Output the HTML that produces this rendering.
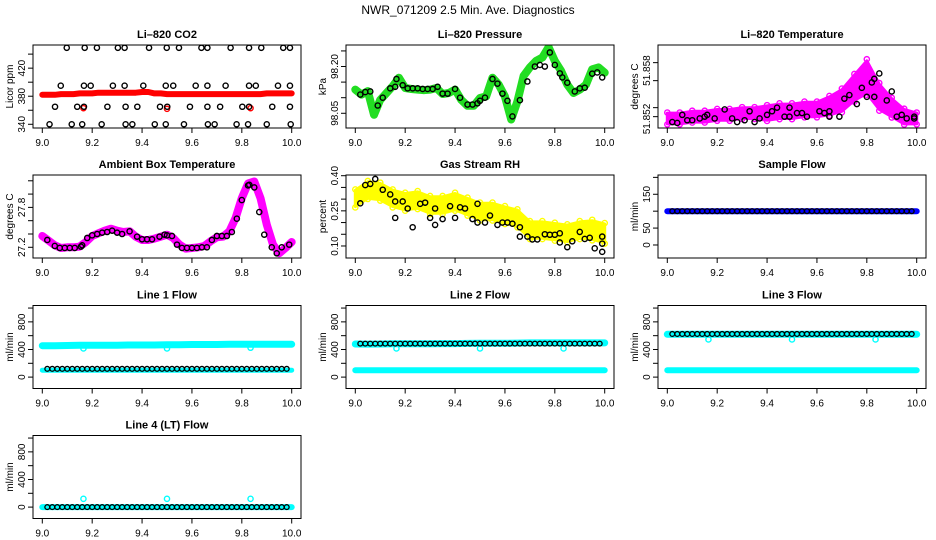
<!DOCTYPE html>
<html><head><meta charset="utf-8"><style>
html,body{margin:0;padding:0;background:#fff;}
svg{display:block;font-family:"Liberation Sans",sans-serif;}
</style></head><body>
<svg id="chart" width="936" height="540" viewBox="0 0 936 540">
<rect width="936" height="540" fill="#fff"/>
<text x="468" y="14" text-anchor="middle" font-size="12">NWR_071209  2.5 Min. Ave. Diagnostics</text>
</svg>
<script>
// ---------- data ----------
const T41 = [9.0,9.025,9.05,9.075,9.1,9.125,9.15,9.175,9.2,9.225,9.25,9.275,9.3,9.325,9.35,9.375,9.4,9.425,9.45,9.475,9.5,9.525,9.55,9.575,9.6,9.625,9.65,9.675,9.7,9.725,9.75,9.775,9.8,9.825,9.85,9.875,9.9,9.925,9.95,9.975,10.0];
const T21 = [9.0,9.05,9.1,9.15,9.2,9.25,9.3,9.35,9.4,9.45,9.5,9.55,9.6,9.65,9.7,9.75,9.8,9.85,9.9,9.95,10.0];
const TB = [9.02,9.04,9.06,9.08,9.1,9.12,9.14,9.16,9.18,9.2,9.22,9.24,9.26,9.28,9.3,9.32,9.34,9.36,9.38,9.4,9.42,9.44,9.46,9.48,9.5,9.52,9.54,9.56,9.58,9.6,9.62,9.64,9.66,9.68,9.7,9.72,9.74,9.76,9.78,9.8,9.82,9.84,9.86,9.88,9.9,9.92,9.94,9.96,9.98];

const co2Red = [382,382,382,383,383,383,384,384,384,385,385,385,385,385,385,385,386,386,384,384,383,383,383,383,383,383,383,383,383,383,383,383,383,383,383,383,384,384,384,384,384];
const co2RedOutT = [9.165,9.5,9.835];
const co2RedOutV = [363,362,363];
const co2HiT = [9.098,9.170,9.219,9.303,9.330,9.428,9.499,9.548,9.638,9.662,9.755,9.829,9.878,9.966,9.993];
const co2MidT = [9.074,9.167,9.194,9.283,9.330,9.405,9.495,9.525,9.615,9.662,9.735,9.829,9.856,9.945,9.993];
const co2LowT = [9.051,9.140,9.167,9.261,9.334,9.381,9.472,9.501,9.592,9.662,9.713,9.802,9.829,9.922,9.993];
const co2MinT = [9.029,9.118,9.160,9.238,9.334,9.361,9.451,9.495,9.568,9.664,9.691,9.779,9.825,9.900,9.996];
const co2Levels = [449,395,365,340];

const presGreen = [98.126,98.110,98.121,98.045,98.093,98.115,98.137,98.164,98.131,98.128,98.126,98.124,98.126,98.131,98.112,98.115,98.126,98.093,98.074,98.074,98.099,98.104,98.164,98.142,98.104,98.030,98.088,98.170,98.197,98.218,98.229,98.262,98.218,98.186,98.142,98.115,98.126,98.142,98.191,98.197,98.180];
const presBlkT = [9.02,9.04,9.06,9.09,9.11,9.14,9.16,9.165,9.19,9.21,9.23,9.25,9.27,9.29,9.31,9.33,9.35,9.37,9.4,9.42,9.45,9.47,9.49,9.5,9.52,9.55,9.57,9.59,9.61,9.63,9.66,9.69,9.72,9.74,9.76,9.78,9.8,9.82,9.83,9.85,9.88,9.9,9.92,9.95,9.97,9.99];
const presBlkV = [98.11,98.118,98.12,98.075,98.1,98.13,98.135,98.16,98.14,98.13,98.13,98.13,98.128,98.128,98.128,98.135,98.113,98.113,98.128,98.1,98.078,98.078,98.082,98.09,98.1,98.16,98.145,98.113,98.09,98.04,98.092,98.152,98.2,98.205,98.2,98.245,98.205,98.178,98.165,98.148,98.12,98.13,98.132,98.177,98.181,98.165];

const tempCenter = [51.8519,51.8519,51.8520,51.8520,51.8521,51.8521,51.8522,51.8522,51.8522,51.8523,51.8523,51.8524,51.8524,51.8526,51.8529,51.8536,51.8542,51.8531,51.8525,51.8520,51.8519];
const tempSpread = [0.0003,0.0003,0.0003,0.0003,0.0003,0.0003,0.0003,0.0003,0.0004,0.0004,0.0004,0.0004,0.0004,0.0005,0.0006,0.0007,0.0009,0.0007,0.0005,0.0004,0.0003];
const tempBlkT = [9.02,9.04,9.06,9.08,9.1,9.13,9.15,9.16,9.19,9.23,9.26,9.28,9.31,9.33,9.35,9.37,9.4,9.42,9.44,9.47,9.49,9.49,9.52,9.54,9.56,9.61,9.63,9.65,9.65,9.69,9.71,9.73,9.76,9.78,9.8,9.82,9.83,9.83,9.85,9.88,9.9,9.92,9.94,9.96,9.99,9.99];
const tempBlkV = [51.8517,51.85165,51.8521,51.8518,51.8518,51.8519,51.8520,51.8521,51.8519,51.8524,51.8519,51.8517,51.8518,51.8523,51.8517,51.8519,51.8521,51.8523,51.8525,51.8520,51.8525,51.8520,51.8522,51.8522,51.8520,51.8523,51.8522,51.8523,51.8520,51.8520,51.8530,51.8532,51.8527,51.8536,51.8531,51.8539,51.8541,51.8531,51.8544,51.8529,51.8534,51.8520,51.8521,51.8519,51.8520,51.8519];

const ambMag = [27.37,27.30,27.23,27.19,27.20,27.20,27.21,27.28,27.37,27.41,27.45,27.48,27.45,27.43,27.44,27.36,27.31,27.31,27.33,27.36,27.39,27.34,27.24,27.18,27.19,27.20,27.22,27.29,27.35,27.36,27.44,27.64,27.94,28.16,28.19,27.94,27.54,27.24,27.11,27.19,27.28];
const ambBlkT = [9.02,9.05,9.07,9.09,9.11,9.13,9.155,9.16,9.18,9.2,9.22,9.24,9.26,9.28,9.3,9.32,9.35,9.38,9.4,9.42,9.44,9.47,9.49,9.5,9.52,9.54,9.56,9.58,9.6,9.62,9.64,9.66,9.68,9.7,9.72,9.74,9.76,9.78,9.8,9.825,9.83,9.85,9.87,9.89,9.92,9.94,9.96,9.99];
const ambBlkV = [27.31,27.22,27.19,27.19,27.19,27.19,27.21,27.23,27.34,27.38,27.40,27.42,27.43,27.45,27.42,27.40,27.44,27.36,27.32,27.32,27.32,27.36,27.39,27.38,27.37,27.24,27.19,27.19,27.19,27.19,27.20,27.20,27.31,27.37,27.37,27.37,27.43,27.63,27.91,28.13,28.14,28.10,27.73,27.39,27.20,27.11,27.20,27.24];

const rhCenter = [0.303,0.339,0.332,0.303,0.289,0.296,0.275,0.275,0.289,0.268,0.247,0.247,0.232,0.218,0.168,0.168,0.161,0.154,0.168,0.168,0.154];
const rhSpread = [0.035,0.035,0.035,0.035,0.035,0.035,0.035,0.035,0.035,0.035,0.035,0.035,0.035,0.035,0.035,0.035,0.035,0.035,0.035,0.04,0.04];
const rhBlkT = [9.02,9.04,9.06,9.08,9.11,9.14,9.16,9.16,9.19,9.21,9.23,9.26,9.28,9.3,9.32,9.32,9.35,9.38,9.4,9.42,9.44,9.47,9.49,9.49,9.52,9.54,9.57,9.59,9.61,9.63,9.66,9.66,9.69,9.71,9.73,9.76,9.78,9.8,9.82,9.82,9.85,9.87,9.9,9.92,9.94,9.96,9.99,9.99,9.99];
const rhBlkV = [0.282,0.36,0.365,0.386,0.34,0.32,0.29,0.22,0.29,0.26,0.18,0.28,0.285,0.22,0.26,0.19,0.215,0.27,0.22,0.265,0.26,0.215,0.2,0.28,0.2,0.23,0.19,0.2,0.2,0.195,0.18,0.14,0.14,0.128,0.128,0.15,0.148,0.148,0.154,0.115,0.095,0.12,0.16,0.13,0.135,0.09,0.14,0.11,0.075];

const sampleBlue = [100,100,100,100,100,100,100,100,100,100,100,100,100,100,100,100,100,100,100,100,100];
const sampleBlk = 100;

const line1Hi = [455,455,458,460,462,462,462,465,465,465,468,470,472,472,472,475,475,475,475,475,475];
const line1Lo = [100,100,100,100,100,100,100,100,100,100,100,100,100,100,100,100,100,100,100,100,100];
const line1Blk = 120;
const line2Hi = [480,478,480,482,482,482,482,485,485,488,490,490,490,492,495,495,495,495,495,495,495];
const line2Lo = [100,100,100,100,100,100,100,100,100,100,100,100,100,100,100,100,100,100,100,100,100];
const line2Blk = 485;
const line3Hi = [620,620,620,620,620,620,620,620,620,620,620,620,620,620,620,620,620,620,620,620,620];
const line3Lo = [100,100,100,100,100,100,100,100,100,100,100,100,100,100,100,100,100,100,100,100,100];
const line3Blk = 625;
const line4Hi = [0,0,0,0,0,0,0,0,0,0,0,0,0,0,0,0,0,0,0,0,0];
const line4Blk = 0;
const dipT = [9.165,9.5,9.835];
const line1DipV = [415,415,425];
const line2DipV = [415,415,415];
const line3DipV = [545,545,545];
const line4DipV = [120,120,120];

// ---------- drawing ----------
const NS = "http://www.w3.org/2000/svg";
const svg = document.getElementById("chart");
function mk(tag, attrs, parent){ const e=document.createElementNS(NS,tag); for(const k in attrs) e.setAttribute(k,attrs[k]); (parent||svg).appendChild(e); return e; }

const COLS=[33,346,658], ROWS=[45,175,305.5,435.5], W=268, H=83;

function panel(name,col,row,title,ylab,ymin,ymax,ticks,labels){
  const L=COLS[col], T=ROWS[row], B=T+H;
  const g=mk("g",{});
  
  
  const sx=v=>L+9.3+(v-9)*(W-18.6);
  const sy=v=>B-(v-ymin)/(ymax-ymin)*H;
  const t=mk("text",{x:L+W/2,y:T-7,"text-anchor":"middle","font-size":"11","font-weight":"bold"},g);
  t.textContent=title;
  
  
  const yl=mk("text",{transform:`translate(${L-20},${T+H/2}) rotate(-90)`,"text-anchor":"middle","font-size":"10"},g);
  yl.textContent=ylab;
  
  
  const xt=[9.0,9.2,9.4,9.6,9.8,10.0];
  mk("line",{x1:sx(9),x2:sx(10),y1:B,y2:B,stroke:"#000","stroke-width":1},g);
  xt.forEach(v=>{
    mk("line",{x1:sx(v),x2:sx(v),y1:B,y2:B+5,stroke:"#000","stroke-width":1},g);
    const tl=mk("text",{x:sx(v),y:B+18,"text-anchor":"middle","font-size":"10"},g);
    tl.textContent=v.toFixed(1);
    
    
  });
  ticks.forEach(v=>{ mk("line",{x1:L-5,x2:L,y1:sy(v),y2:sy(v),stroke:"#000","stroke-width":1},g); });
  labels.forEach(lb=>{
    const tl=mk("text",{transform:`translate(${L-8},${sy(lb[0])}) rotate(-90)`,"text-anchor":"middle","font-size":"10"},g);
    tl.textContent=lb[1];
    
    
  });
  const clip="c"+name;
  const cp=mk("clipPath",{id:clip},g); mk("rect",{x:L,y:T,width:W,height:H},cp);
  const plot=mk("g",{"clip-path":`url(#${clip})`},g);
  const frame=mk("rect",{x:L,y:T,width:W,height:H,fill:"none",stroke:"#000","stroke-width":1},g);
  
  
  return {g:plot,sx,sy,frame,outer:g};
}
function line(p,ts,vs,color,w,nm){
  const d=ts.map((t,i)=>(i?"L":"M")+p.sx(t).toFixed(1)+" "+p.sy(vs[i]).toFixed(1)).join(" ");
  const e=mk("path",{d,fill:"none",stroke:color,"stroke-width":w,"stroke-linecap":"round","stroke-linejoin":"round"},p.g);
  
  
}
function pts(p,ts,vs,color,nm,r,sw){
  ts.forEach((t,i)=>{
    const v=Array.isArray(vs)?vs[i]:vs;
    const c=mk("circle",{cx:p.sx(t),cy:p.sy(v),r:r||2.6,fill:"none",stroke:color,"stroke-width":sw||1.4},p.g);
    
    
  });
}
function band(p,ts,c,s,color,nm){
  const up=ts.map((t,i)=>p.sx(t).toFixed(1)+","+p.sy(c[i]+s[i]).toFixed(1));
  const lo=ts.map((t,i)=>p.sx(t).toFixed(1)+","+p.sy(c[i]-s[i]).toFixed(1)).reverse();
  const e=mk("polygon",{points:up.concat(lo).join(" "),fill:color,stroke:color,"stroke-width":3,"stroke-linejoin":"round"},p.g);
  
  
  pts(p,ts,c.map((v,i)=>v+s[i]*1.1),color,nm+'-point',2.6,1.4);
  pts(p,ts,c.map((v,i)=>v-s[i]*1.1),color,nm+'-point',2.6,1.4);
}

// CO2
let p=panel("co2",0,0,"Li\u2013820 CO2","Licor ppm",334.7,453,[340,360,380,400,420,440],[[340,"340"],[380,"380"],[420,"420"]]);
line(p,T41,co2Red,"#ff0000",6,"co2-series");
pts(p,co2RedOutT,co2RedOutV,"#ff0000","co2-outlier");
[co2HiT,co2MidT,co2LowT,co2MinT].forEach((ts,k)=>pts(p,ts,co2Levels[k],"#000","co2-avg-point"));

// Pressure
p=panel("pressure",1,0,"Li\u2013820 Pressure","kPa",98.0028,98.269,[98.05,98.10,98.15,98.20,98.25],[[98.05,"98.05"],[98.20,"98.20"]]);
line(p,T41,presGreen,"#22dd22",8,"pressure-series");
pts(p,T41,presGreen,"#22dd22","pressure-point",3,1.5);
pts(p,presBlkT,presBlkV,"#000","pressure-avg-point");

// Li-820 Temperature
p=panel("li820-temp",2,0,"Li\u2013820 Temperature","degrees C",51.85137,51.85598,[51.852,51.8525,51.854,51.855],[[51.85456,"51.858"],[51.85187,"51.852"]]);
band(p,T21,tempCenter,tempSpread,"#ff00ff","li820-temp-cloud");
pts(p,tempBlkT,tempBlkV,"#000","li820-temp-avg-point");

// Ambient
p=panel("ambient",0,1,"Ambient Box Temperature","degrees C",27.039,28.287,[27.2,27.4,27.6,27.8,28.0,28.2],[[27.2,"27.2"],[27.8,"27.8"]]);
line(p,T41,ambMag,"#ff00ff",8,"ambient-series");
pts(p,ambBlkT,ambBlkV,"#000","ambient-avg-point");

// RH
p=panel("rh",1,1,"Gas Stream RH","percent",0.0487,0.403,[0.10,0.15,0.20,0.25,0.30,0.35,0.40],[[0.10,"0.10"],[0.25,"0.25"],[0.40,"0.40"]]);
band(p,T21,rhCenter,rhSpread,"#ffff00","rh-cloud");
pts(p,rhBlkT,rhBlkV,"#000","rh-avg-point");

// Sample flow
p=panel("sample-flow",2,1,"Sample Flow","ml/min",-38.5,207,[0,50,100,150,200],[[0,"0"],[50,"50"],[150,"150"]]);
line(p,T21,sampleBlue,"#0000ff",6,"sample-flow-series");
pts(p,TB,sampleBlk,"#000","sample-flow-avg-point",2.4,1.3);

// Line flows
const lticks=[0,200,400,600,800,1000], llabs=[[0,"0"],[400,"400"],[800,"800"]];
p=panel("line1-flow",0,2,"Line 1 Flow","ml/min",-165,1037,lticks,llabs);
line(p,T21,line1Hi,"#00ffff",7,"line1-flow-series");
line(p,T21,line1Lo,"#00ffff",5,"line1-flow-low-series");
pts(p,dipT,line1DipV,"#00ffff","line1-flow-outlier");
pts(p,TB,line1Blk,"#000","line1-flow-avg-point",2.4,1.3);

p=panel("line2-flow",1,2,"Line 2 Flow","ml/min",-165,1037,lticks,llabs);
line(p,T21,line2Hi,"#00ffff",7,"line2-flow-series");
line(p,T21,line2Lo,"#00ffff",6,"line2-flow-low-series");
pts(p,dipT,line2DipV,"#00ffff","line2-flow-outlier");
pts(p,TB,line2Blk,"#000","line2-flow-avg-point",2.4,1.3);

p=panel("line3-flow",2,2,"Line 3 Flow","ml/min",-165,1037,lticks,llabs);
line(p,T21,line3Hi,"#00ffff",7,"line3-flow-series");
line(p,T21,line3Lo,"#00ffff",6,"line3-flow-low-series");
pts(p,dipT,line3DipV,"#00ffff","line3-flow-outlier");
pts(p,TB,line3Blk,"#000","line3-flow-avg-point",2.4,1.3);

p=panel("line4-flow",0,3,"Line 4 (LT) Flow","ml/min",-165,1037,lticks,llabs);
line(p,T21,line4Hi,"#00ffff",6,"line4-flow-series");
pts(p,dipT,line4DipV,"#00ffff","line4-flow-outlier");
pts(p,TB,line4Blk,"#000","line4-flow-avg-point",2.4,1.3);
</script>
</body></html>
